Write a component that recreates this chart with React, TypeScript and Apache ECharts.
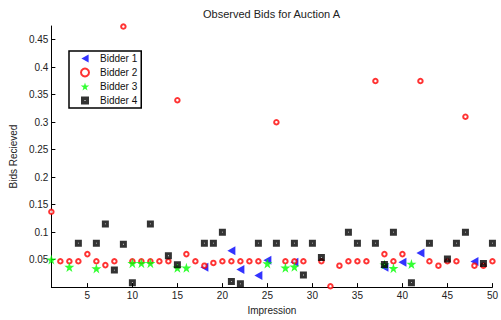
import React, { useEffect, useRef } from "react";
import * as echarts from "echarts";

const chartTitle = "Observed Bids for Auction A";
const xName = "Impression";
const yName = "Bids Recieved";
const seriesNames = ["Bidder 1", "Bidder 2", "Bidder 3", "Bidder 4"];

const xTicks = [5, 10, 15, 20, 25, 30, 35, 40, 45, 50];
const yTicks = [0.05, 0.1, 0.15, 0.2, 0.25, 0.3, 0.35, 0.4, 0.45];

const bidder1X = [18, 21, 22, 24, 25, 28, 38, 40, 42, 48];
const bidder1Y = [0.036, 0.066, 0.032, 0.021, 0.049, 0.045, 0.036, 0.045, 0.062, 0.0465];

const bidder2X = [1, 2, 3, 4, 5, 6, 7, 8, 9, 10, 11, 12, 13, 14, 15, 16, 17, 18, 19, 20, 21, 22, 23, 24, 26, 27, 28, 29, 31, 32, 33, 34, 35, 36, 37, 38, 39, 40, 42, 43, 44, 45, 46, 47, 48, 49, 50];
const bidder2Y = [0.137, 0.047, 0.047, 0.047, 0.06, 0.047, 0.04, 0.047, 0.474, 0.047, 0.047, 0.047, 0.047, 0.047, 0.34, 0.06, 0.047, 0.039, 0.044, 0.047, 0.047, 0.047, 0.047, 0.047, 0.3, 0.047, 0.047, 0.047, 0.047, 0.0015, 0.039, 0.047, 0.047, 0.047, 0.375, 0.06, 0.047, 0.06, 0.375, 0.047, 0.039, 0.047, 0.047, 0.31, 0.039, 0.039, 0.047];

const bidder3X = [1, 3, 6, 10, 11, 12, 15, 16, 25, 27, 28, 38, 39, 41];
const bidder3Y = [0.05, 0.0366, 0.034, 0.0436, 0.0436, 0.0436, 0.0353, 0.0353, 0.043, 0.0353, 0.037, 0.041, 0.0345, 0.042];

const bidder4X = [4, 6, 7, 8, 9, 10, 12, 14, 15, 18, 19, 20, 21, 22, 24, 26, 28, 29, 30, 31, 34, 35, 37, 38, 39, 41, 43, 45, 46, 47, 49, 50];
const bidder4Y = [0.08, 0.08, 0.115, 0.031, 0.078, 0.008, 0.115, 0.057, 0.0406, 0.08, 0.08, 0.1, 0.01, 0.006, 0.08, 0.08, 0.08, 0.022, 0.08, 0.054, 0.1, 0.08, 0.08, 0.041, 0.1, 0.008, 0.08, 0.051, 0.08, 0.1, 0.043, 0.08];

const zip = (xs: number[], ys: number[]) => xs.map((x, i) => [x, ys[i]]);

const FONT = "Liberation Sans, Arial, Helvetica, sans-serif";
const triPath = "path://M0,5L9,0L9,10Z";
const starPath =
  "path://M50,0L61,35L98,35L68,57L79,91L50,70L21,91L32,57L2,35L39,35Z";
const squarePath = "path://M0,0H10V10H0ZM4.4,4.4V5.6H5.6V4.4Z";

export default function App() {
  const ref = useRef<HTMLDivElement>(null);
  useEffect(() => {
    if (!ref.current) return;
    const chart = echarts.init(ref.current, null, { renderer: "svg" });
    const axisCommon = {
      axisLine: { show: true, lineStyle: { color: "#000", width: 1 } },
      axisTick: { show: true, inside: true, length: 4, lineStyle: { color: "#000" } },
      splitLine: { show: false },
    };
    chart.setOption({
      animation: false,
      textStyle: { fontFamily: FONT },
      grid: { left: 48, top: 26, width: 447, height: 267, containLabel: false },
      graphic: [
        {
          type: "text",
          x: 271.5,
          y: 14,
          style: {
            text: chartTitle,
            fontSize: 11,
            fontFamily: FONT,
            fill: "#222",
            align: "center",
            verticalAlign: "middle",
          },
        },
      ],
      legend: {
        orient: "vertical",
        left: 69,
        top: 51,
        data: seriesNames,
        itemWidth: 20,
        itemHeight: 8,
        itemGap: 4,
        padding: [2.5, 4, 2.5, 11],
        borderColor: "#000",
        borderWidth: 1.5,
        backgroundColor: "#fff",
        textStyle: { fontSize: 10, color: "#111", fontFamily: FONT },
        selectedMode: false,
      },
      xAxis: {
        type: "value",
        min: 1,
        max: 50,
        name: xName,
        nameLocation: "middle",
        nameGap: 13,
        nameTextStyle: { fontSize: 10, color: "#222", fontFamily: FONT },
        ...axisCommon,
        axisTick: { ...axisCommon.axisTick, customValues: xTicks },
        axisLabel: { customValues: xTicks, fontSize: 10, color: "#222", margin: 3, fontFamily: FONT },
      },
      yAxis: {
        type: "value",
        min: 0,
        max: 0.475,
        name: yName,
        nameLocation: "middle",
        nameGap: 24,
        nameTextStyle: { fontSize: 10, color: "#222", fontFamily: FONT },
        ...axisCommon,
        axisTick: { ...axisCommon.axisTick, customValues: yTicks },
        axisLabel: {
          customValues: yTicks,
          fontSize: 10,
          color: "#222",
          margin: 3,
          fontFamily: FONT,
          formatter: (v: number) => String(Math.round(v * 100) / 100),
        },
      },
      series: [
        {
          name: seriesNames[0],
          type: "scatter",
          data: zip(bidder1X, bidder1Y),
          symbol: triPath,
          symbolSize: [8, 9],
          itemStyle: { color: "#0000ff" },
          clip: false,
          silent: true,
        },
        {
          name: seriesNames[1],
          type: "scatter",
          data: zip(bidder2X, bidder2Y),
          symbol: "emptyCircle",
          symbolSize: 4.5,
          itemStyle: { color: "#ff0000", borderWidth: 1.8 },
          clip: false,
          silent: true,
        },
        {
          name: seriesNames[2],
          type: "scatter",
          data: zip(bidder3X, bidder3Y),
          symbol: starPath,
          symbolSize: 10,
          itemStyle: { color: "#00ff00" },
          clip: false,
          silent: true,
        },
        {
          name: seriesNames[3],
          type: "scatter",
          data: zip(bidder4X, bidder4Y),
          symbol: squarePath,
          symbolSize: 7,
          itemStyle: { color: "#000" },
          clip: false,
          silent: true,
        },
      ],
    });
    return () => chart.dispose();
  }, []);
  return <div ref={ref} style={{ width: 501, height: 320, position: "absolute", left: 0, top: 0 }} />;
}
